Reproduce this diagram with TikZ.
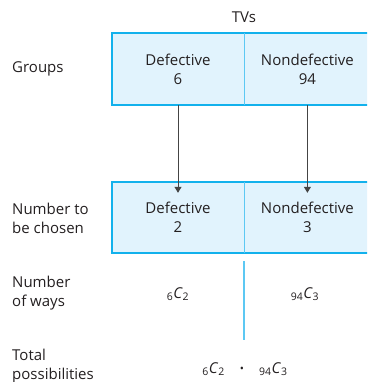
\documentclass[tikz,border=0pt]{standalone}
\usepackage{fontspec}
\setmainfont{Open Sans}
\usepackage{tikz}
\usetikzlibrary{arrows.meta,positioning}
\definecolor{ink}{HTML}{231F20}
\definecolor{edge}{HTML}{12B1EC}
\definecolor{cellfill}{HTML}{E1F3FD}
\definecolor{split}{HTML}{5CC8F3}
\definecolor{pointer}{HTML}{444444}
\newcommand{\comb}[3]{\textsubscript{#1}\textit{C}\textsubscript{#3}}

\begin{document}
\begin{tikzpicture}[x=1pt, y=-1pt, >={Triangle[length=6pt,width=7pt]},
    font=\fontsize{15}{19}\selectfont, text=ink,
    cell/.style={fill=cellfill, minimum height=72pt, inner sep=0pt, align=center},
    rowlabel/.style={anchor=west, align=left, inner sep=0pt},
    frame/.style={edge, line width=2.4pt},
    divider/.style={split, line width=1pt},
    arr/.style={->, pointer, line width=1pt}]
    \useasboundingbox (0,0) rectangle (367,382);
    \clip (0,0) rectangle (367,382);
    % top row
    \node[cell, minimum width=132pt] (dtop) at (178,69) {Defective\\6};
    \node[cell, minimum width=126pt, right=0pt of dtop] (ntop) {Nondefective\\94};
    \draw[frame] (dtop.north west) rectangle (ntop.south east);
    \draw[divider] (dtop.north east) -- (dtop.south east);
    \node (tvs) at (244,17) {TVs};
    % second row
    \node[cell, minimum width=132pt, minimum height=71pt] (dpick) at (178,217.5) {Defective\\2};
    \node[cell, minimum width=126pt, minimum height=71pt, right=0pt of dpick] (npick) {Nondefective\\3};
    \draw[frame] (dpick.north west) rectangle (npick.south east);
    \draw[divider] (dpick.north east) -- (dpick.south east);
    \draw[arr, shorten >=-11pt] (dtop.south) -- (dpick.north);
    \draw[arr, shorten >=-11pt] (ntop.south) -- (npick.north);
    % ways
    \coordinate (waytop) at (244,261);
    \coordinate (waybot) at (244,340);
    \draw[split, line width=1.5pt] (waytop) -- (waybot);
    \node (dways) at (178,294) {\comb{6}{C}{2}};
    \node (nways) at (305,294) {\comb{94}{C}{3}};
    \node (total) at (245,369) {\comb{6}{C}{2}\quad{\fontsize{11}{11}\selectfont\raisebox{1pt}{\textbullet}}\quad\comb{94}{C}{3}};
    % row labels
    \node[rowlabel] (lgroups) at (12,69) {Groups};
    \node[rowlabel] (lpick) at (12,218) {Number to\\be chosen};
    \node[rowlabel] (lways) at (12,293) {Number\\of ways};
    \node[rowlabel] (ltotal) at (12,366) {Total\\possibilities};
\end{tikzpicture}
\end{document}
